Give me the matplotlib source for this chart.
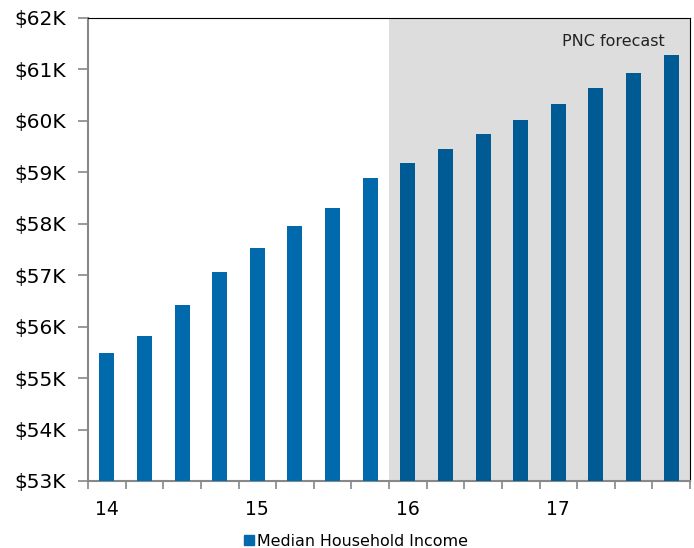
import matplotlib
matplotlib.use("Agg")
import matplotlib.pyplot as plt
from matplotlib.patches import Patch

quarters = ["14Q1","14Q2","14Q3","14Q4","15Q1","15Q2","15Q3","15Q4",
            "16Q1","16Q2","16Q3","16Q4","17Q1","17Q2","17Q3","17Q4"]
income_k = [55.49, 55.82, 56.42, 57.07, 57.53, 57.96, 58.31, 58.89,
            59.19, 59.46, 59.75, 60.02, 60.33, 60.63, 60.94, 61.29]
forecast_start = 8
year_labels = ["14", "15", "16", "17"]
y_ticks = [53, 54, 55, 56, 57, 58, 59, 60, 61, 62]

hist_color = "#006AAD"
fc_color = "#005A94"

fig = plt.figure(figsize=(6.94, 5.48), dpi=100)
ax = fig.add_axes([88/694, 1-481/548, (690-88)/694, (481-18)/548])

x = list(range(len(quarters)))
colors = [hist_color if i < forecast_start else fc_color for i in x]
ax.bar(x, [v - 53 for v in income_k], bottom=53, width=0.4, color=colors, zorder=3)

ax.axvspan(forecast_start - 0.5, len(quarters) - 0.5, color="#DDDDDD", zorder=1, lw=0)
ax.text(13.46, 61.55, "PNC forecast", ha="center", va="center",
        fontsize=11.5, color="#222222", zorder=4)

ax.set_xlim(-0.5, len(quarters) - 0.5)
ax.set_ylim(53, 62)
ax.set_yticks(y_ticks)
ax.set_yticklabels([f"${t}K" for t in y_ticks], fontsize=14.5)
ax.set_xticks([i - 0.5 for i in range(len(quarters) + 1)])
ax.set_xticklabels([])
ax.set_xticks([0, 4, 8, 12], minor=True)
ax.set_xticklabels(year_labels, minor=True, fontsize=13.5)
ax.tick_params(axis="x", which="minor", length=0, pad=14)
ax.tick_params(axis="x", which="major", length=6, color="#888888", width=1.2)
ax.tick_params(axis="y", length=7, color="#888888", width=1.2, pad=9)

ax.spines["left"].set_color("#888888")
ax.spines["left"].set_linewidth(1.5)
ax.spines["bottom"].set_color("#888888")
ax.spines["bottom"].set_linewidth(1.5)
ax.spines["top"].set_color("black")
ax.spines["right"].set_color("black")

fig.legend(handles=[Patch(color=hist_color, label="Median Household Income")],
           loc="center", bbox_to_anchor=(356/694, 1-541/548), frameon=False,
           fontsize=11.4, handlelength=0.6, handleheight=0.6, handletextpad=0.2)

fig.savefig("out.png", dpi=100)
